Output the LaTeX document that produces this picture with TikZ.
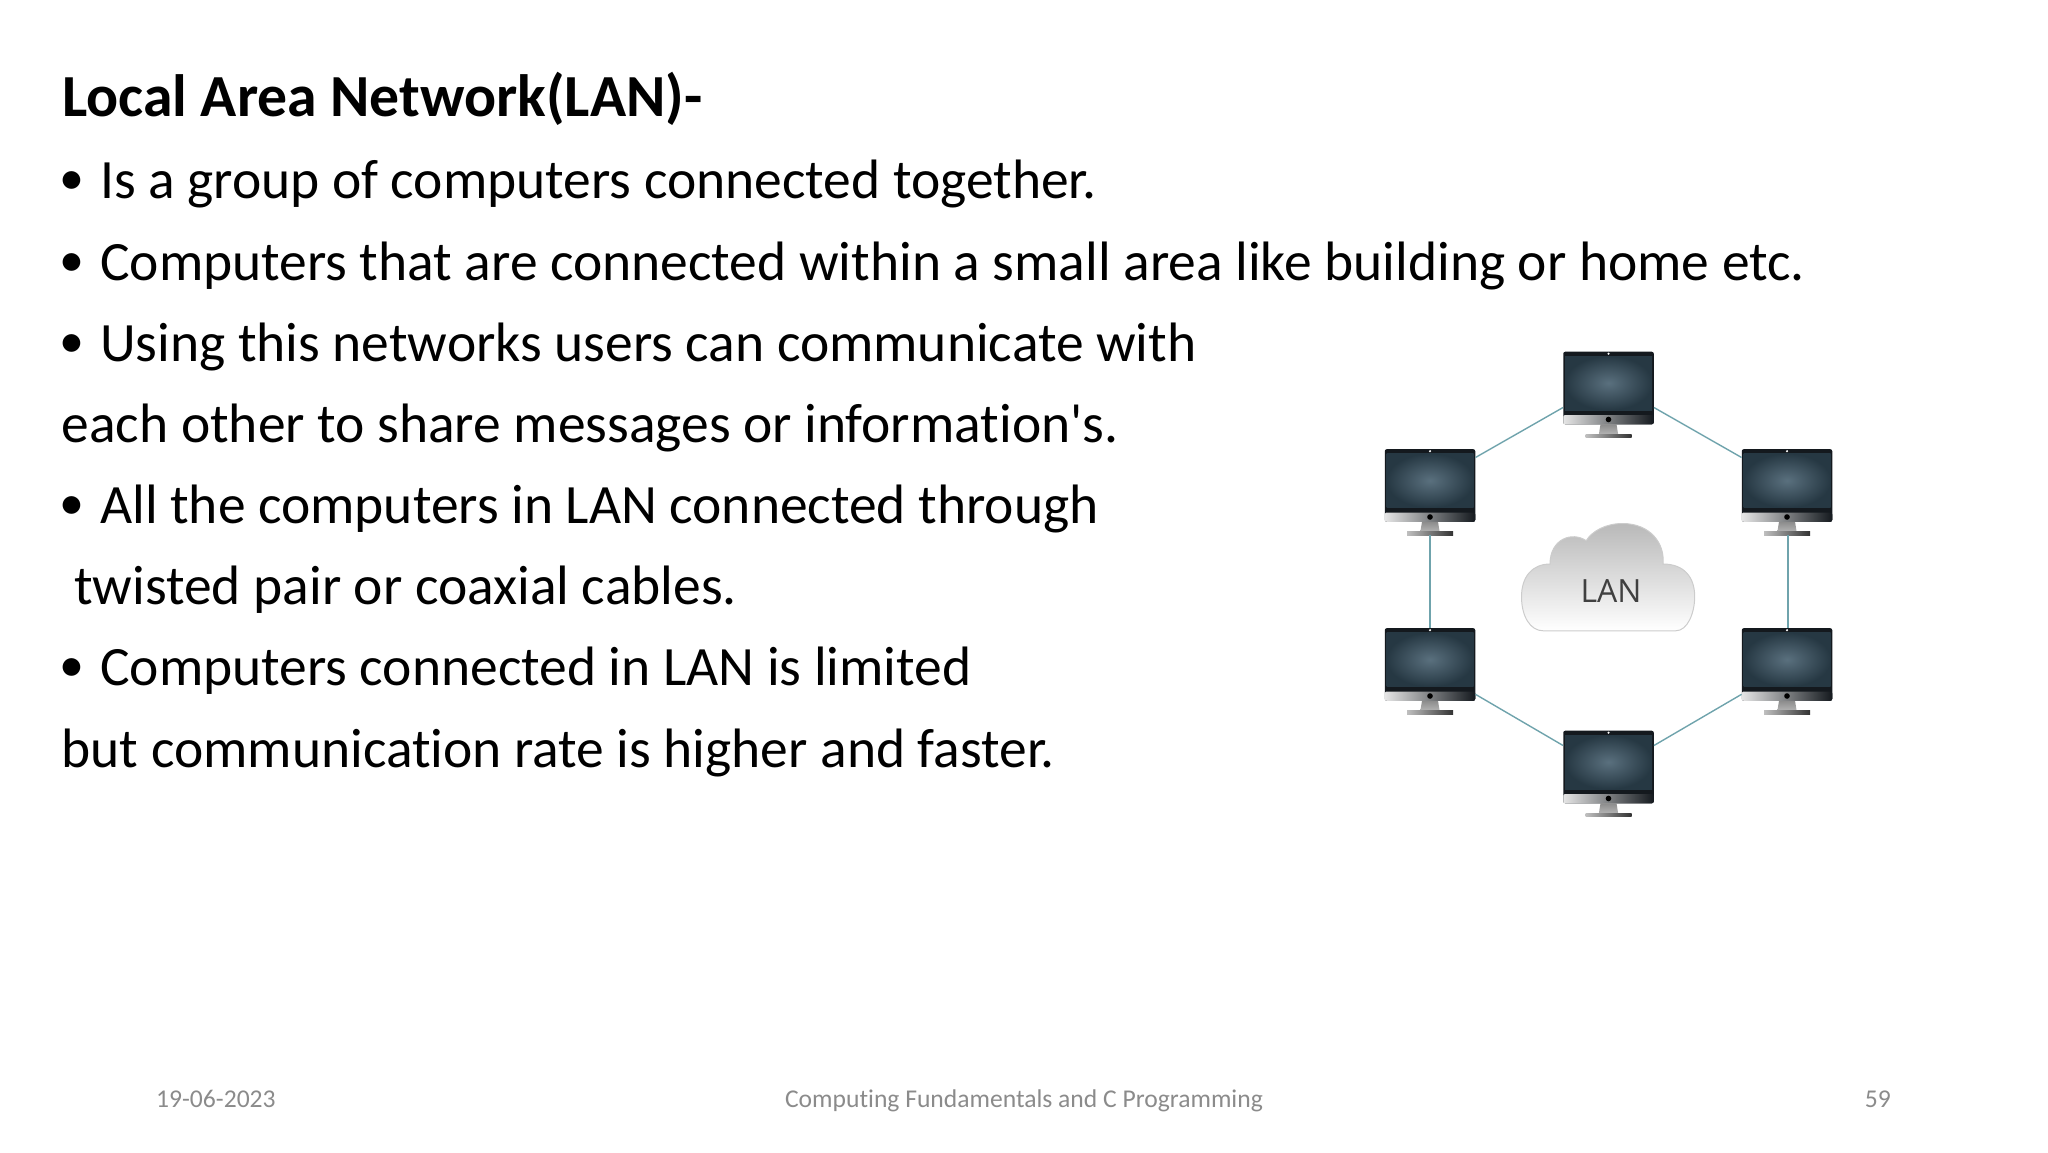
\documentclass[tikz,border=0pt]{standalone}
\usepackage{fontspec}
\setmainfont[Ligatures=NoCommon]{Carlito}
\newfontfamily\lanfont{Open Sans}
\definecolor{bezelc}{HTML}{14191E}
\definecolor{screenc}{HTML}{263843}
\definecolor{glowc}{HTML}{5A707E}
\definecolor{cablec}{HTML}{6FA3AC}
\definecolor{footc}{HTML}{8B8B8B}
\tikzset{
	bodyline/.style={anchor=base west,inner sep=0pt,font=\fontsize{55.5}{55.5}\selectfont},
	bulletdot/.style={anchor=base west,inner sep=0pt,font=\fontsize{50}{50}\selectfont},
	headline/.style={anchor=base west,inner sep=0pt,font=\fontsize{59.7}{59.7}\selectfont\bfseries},
	footline/.style={anchor=base,inner sep=0pt,text=footc,font=\fontsize{25.6}{25.6}\selectfont},
	monitor/.style={rectangle,minimum width=90.5pt,minimum height=72.6pt,inner sep=0pt,fill=bezelc,rounded corners=2pt},
	cable/.style={draw=cablec,line width=1.4pt},
	screen/.pic={
		\shade[inner color=glowc,outer color=screenc] (-43.5,-32) rectangle (43.5,22);
		\shade[left color=gray!20,right color=bezelc,rounded corners=2pt] (-45.25,27) rectangle (45.25,36.3);
		\fill[white] (0,-34.3) circle(1.2);
		\fill[black] (0,31.5) circle(2.8);
		\shade[top color=gray!90,bottom color=gray!60] (-8,36.3) -- (8,36.3) -- (9.6,46) -- (-9.6,46) -- cycle;
		\shade[left color=gray!50,right color=black!80] (-23,46) rectangle (23,49.5);
	}
}
\begin{document}
\begin{tikzpicture}[x=1pt,y=-1pt]
	\useasboundingbox (0,0) rectangle (2048,1152);
	\node[headline] (title) at (62,116) {Local Area Network(LAN)-};
	\node[bulletdot] (dotA) at (59,194) {•};
	\node[bodyline] (lineA) at (100,198.5) {Is a group of computers connected together.};
	\node[bulletdot] (dotB) at (59,276) {•};
	\node[bodyline] (lineB) at (100,280) {Computers that are connected within a small area like building or home etc.};
	\node[bulletdot] (dotC) at (59,357) {•};
	\node[bodyline] (lineC) at (100,361.5) {Using this networks users can communicate with};
	\node[bodyline] (lineD) at (61.5,442.5) {each other to share messages or information\textquotesingle s.};
	\node[bulletdot] (dotE) at (59,519) {•};
	\node[bodyline] (lineE) at (100,523.5) {All the computers in LAN connected through};
	\node[bodyline] (lineF) at (74,604.5) {twisted pair or coaxial cables.};
	\node[bulletdot] (dotG) at (59,681) {•};
	\node[bodyline] (lineG) at (100,685.5) {Computers connected in LAN is limited};
	\node[bodyline] (lineH) at (61.5,767.5) {but communication rate is higher and faster.};
	\foreach \pcname/\px/\py in {pcT/1608.5/388,pcL/1430/485.5,pcR/1787/485.5,pcLL/1430/664.5,pcLR/1787/664.5,pcB/1608.5/767}{
		\node[monitor] (\pcname) at (\px,\py) {};
		\pic at (\px,\py) {screen};
	}
	\draw[cable] ([yshift=17pt]pcT.south west) -- ([yshift=-8.5pt]pcL.north east);
	\draw[cable] ([yshift=17pt]pcT.south east) -- ([yshift=-8.5pt]pcR.north west);
	\draw[cable] ([yshift=-12.5pt]pcL.south) -- (pcLL.north);
	\draw[cable] ([xshift=1pt,yshift=-12.5pt]pcR.south) -- ([xshift=1pt]pcLR.north);
	\draw[cable] ([yshift=6.7pt]pcLL.south east) -- ([yshift=-15pt]pcB.north west);
	\draw[cable] ([yshift=6.7pt]pcLR.south west) -- ([yshift=-15pt]pcB.north east);
	\shade[top color=gray!55,bottom color=white,draw=gray!40,line width=1pt]
		(1543.2,630.8) -- (1675.7,630.8)
		.. controls (1688,630.8) and (1694.7,612) .. (1694.7,596.7)
		.. controls (1694.7,577) and (1684,564) .. (1663,564)
		.. controls (1665,543) and (1650,523.5) .. (1622.4,523.5)
		.. controls (1606,523.5) and (1592,531) .. (1586.2,540.7)
		.. controls (1572,531) and (1550,539) .. (1550,564)
		.. controls (1532,564) and (1521.5,577) .. (1521.5,596.7)
		.. controls (1521.5,616) and (1530,630.8) .. (1543.2,630.8) -- cycle;
	\node[inner sep=0pt,text=black!75,font=\lanfont\fontsize{32}{32}\selectfont] (lan) at (1611,591) {LAN};
	\node[footline,anchor=base west] (date) at (156,1107) {19-06-2023};
	\node[footline] (course) at (1024,1107) {Computing Fundamentals and C Programming};
	\node[footline,anchor=base east] (page) at (1891,1107) {59};
\end{tikzpicture}
\end{document}
